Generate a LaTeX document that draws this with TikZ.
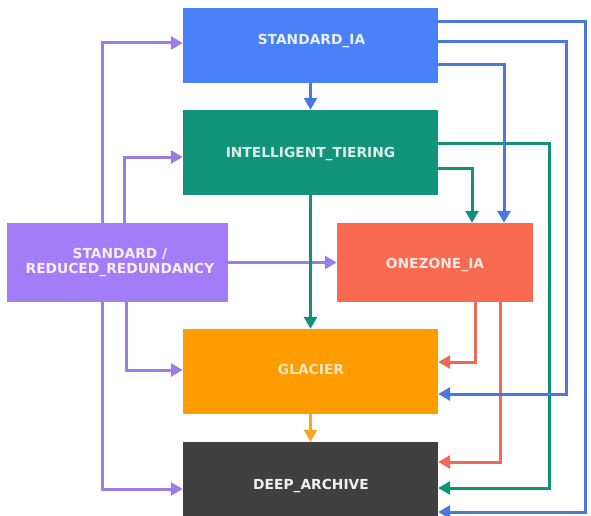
\documentclass[tikz,border=0pt]{standalone}
\usepackage{fontspec}
\setmainfont{DejaVu Sans}
\usetikzlibrary{arrows.meta}
\definecolor{cSIA}{RGB}{74,128,248}
\definecolor{cIT}{RGB}{18,148,122}
\definecolor{cOZ}{RGB}{250,106,80}
\definecolor{cGL}{RGB}{255,156,0}
\definecolor{cDA}{RGB}{64,64,64}
\definecolor{cRR}{RGB}{163,124,247}
\definecolor{lPU}{RGB}{155,125,232}
\definecolor{lBL}{RGB}{75,120,220}
\definecolor{lGR}{RGB}{17,144,122}
\definecolor{lRE}{RGB}{239,106,85}
\definecolor{lOR}{RGB}{245,166,35}
\tikzset{
  box/.style={inner sep=0pt, draw=none},
  lbl/.style={inner sep=0pt, font=\fontsize{13.8}{15}\selectfont\bfseries, text height=10pt, text depth=0pt, align=center},
  conn/.style={line width=3pt, -{Triangle[length=12pt,width=13pt]}},
}
\begin{document}
\begin{tikzpicture}[x=1pt,y=-1pt]
\useasboundingbox (0,0) rectangle (591,516);
\fill[white] (0,0) rectangle (591,516);
% boxes
\node[box, fill=cSIA, minimum width=255pt, minimum height=75pt] (sia) at (310.5,45.5) {};
\node[box, fill=cIT, minimum width=255pt, minimum height=85pt] (it) at (310.5,152.5) {};
\node[box, fill=cOZ, minimum width=196pt, minimum height=79pt] (oz) at (435,262.5) {};
\node[box, fill=cRR, minimum width=221pt, minimum height=79pt] (rr) at (117.5,262.5) {};
\node[box, fill=cGL, minimum width=255pt, minimum height=85pt] (gl) at (310.5,371.5) {};
\node[box, fill=cDA, minimum width=255pt, minimum height=82pt] (da) at (310.5,483) {};
% labels
\node[lbl, text=white!88!cSIA] (tsia) at (311.5,40) {STANDARD\_IA};
\node[lbl, text=white!85!cIT] (tit) at (310.5,152.5) {INTELLIGENT\_TIERING};
\node[lbl, text=white!85!cOZ] (toz) at (435,263.5) {ONEZONE\_IA};
\node[lbl, text=white!75!cGL] (tgl) at (311,369.5) {GLACIER};
\node[lbl, text=white!92!cDA] (tda) at (311,484) {DEEP\_ARCHIVE};
\node[lbl, text=white!88!cRR, text height=, text depth=] (trr) at (120,262.5) {STANDARD /\\REDUCED\_REDUNDANCY};
% purple
\draw[conn, lPU] ([xshift=96pt]rr.north west) |- ([yshift=2.5pt]sia.west);
\draw[conn, lPU] ([xshift=118pt]rr.north west) |- ([yshift=-4.5pt]it.west);
\draw[conn, lPU] (rr.east) -- (oz.west);
\draw[conn, lPU] ([xshift=120pt]rr.south west) |- ([yshift=1.5pt]gl.west);
\draw[conn, lPU] ([xshift=96pt]rr.south west) |- ([yshift=-6pt]da.west);
% red
\draw[conn, lRE] ([xshift=40pt]oz.south) |- ([yshift=9.5pt]gl.east);
\draw[conn, lRE] ([xshift=65pt]oz.south) |- ([yshift=21pt]da.east);
% green
\draw[conn, lGR] (it.south) -- (gl.north);
\draw[conn, lGR] ([yshift=9.5pt]it.east) -- ++(111,0) |- ([yshift=-5pt]da.east);
\draw[conn, lGR] ([yshift=-15.5pt]it.east) -| ([xshift=37pt]oz.north);
% blue
\draw[conn, lBL] (sia.south) -- (it.north);
\draw[conn, lBL] ([yshift=23.5pt]sia.east) -- ++(147,0) |- ([yshift=-29pt]da.east);
\draw[conn, lBL] ([yshift=3.5pt]sia.east) -- ++(128,0) |- ([yshift=-22.5pt]gl.east);
\draw[conn, lBL] ([yshift=-19.5pt]sia.east) -| ([xshift=69pt]oz.north);
% orange
\draw[conn, lOR] (gl.south) -- (da.north);
\end{tikzpicture}
\end{document}
